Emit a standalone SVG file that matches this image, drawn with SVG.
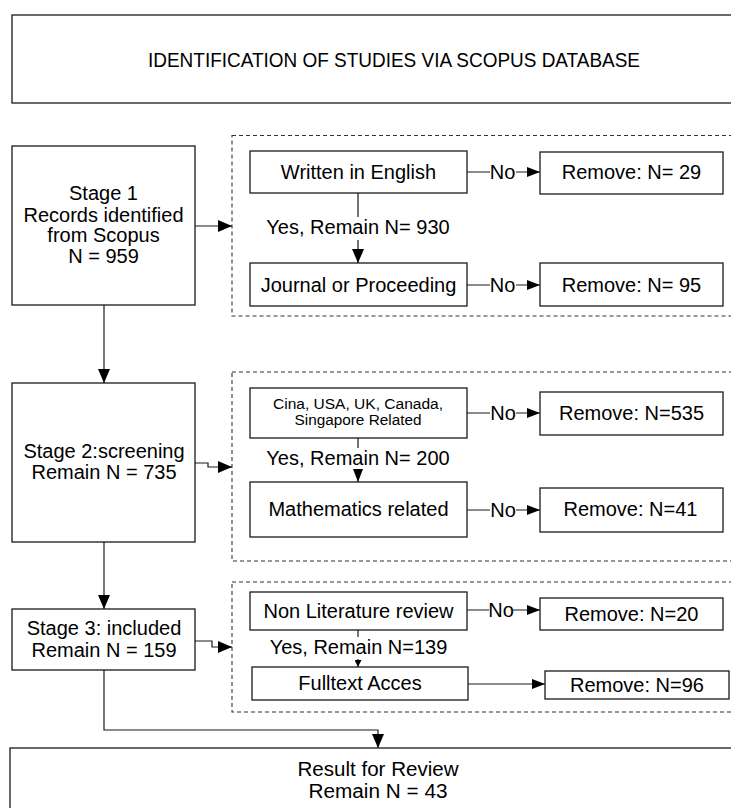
<svg xmlns="http://www.w3.org/2000/svg" width="731" height="808" viewBox="0 0 731 808">
<style>
.box{fill:#fff;stroke:#1a1a1a;stroke-width:1.3}
.dash{fill:none;stroke:#333;stroke-width:1.1;stroke-dasharray:4 3}
.ln{fill:none;stroke:#1a1a1a;stroke-width:1.2}
.t{font-family:"Liberation Sans",Arial,sans-serif;font-size:20px;fill:#000;text-anchor:middle}
.ts{font-family:"Liberation Sans",Arial,sans-serif;font-size:14px;fill:#000;text-anchor:middle}
</style>
<defs>
<marker id="ah" markerUnits="userSpaceOnUse" markerWidth="14" markerHeight="12" refX="14" refY="6" orient="auto">
<path d="M0,0 L14,6 L0,12 z" fill="#000"/>
</marker>
<marker id="ahm" markerUnits="userSpaceOnUse" markerWidth="13" markerHeight="10" refX="13" refY="5" orient="auto">
<path d="M0,0 L13,5 L0,10 z" fill="#000"/>
</marker>
<marker id="ahs" markerUnits="userSpaceOnUse" markerWidth="7" markerHeight="7" refX="7" refY="3.5" orient="auto">
<path d="M0,0 L7,3.5 L0,7 z" fill="#000"/>
</marker>
</defs>
<rect width="731" height="808" fill="#fff"/>

<g id="groups">
<rect class="dash" x="232" y="135.5" width="510" height="180.5"/>
<rect class="dash" x="232" y="372" width="510" height="189"/>
<rect class="dash" x="232" y="582" width="510" height="130"/>
</g>

<g id="connectors">
<path class="ln" d="M104,305 V383" marker-end="url(#ah)"/>
<path class="ln" d="M104,542 V609" marker-end="url(#ah)"/>
<path class="ln" d="M104,670 V730 H378 V748" marker-end="url(#ah)"/>
<path class="ln" d="M195,226 H232" marker-end="url(#ah)"/>
<path class="ln" d="M195,463 H208 V467 H232" marker-end="url(#ah)"/>
<path class="ln" d="M195,641 H212 V647 H232" marker-end="url(#ah)"/>
<path class="ln" d="M467,172 H490 M516,172 H540" marker-end="url(#ahm)"/>
<path class="ln" d="M467,285 H490 M516,285 H540" marker-end="url(#ahm)"/>
<path class="ln" d="M358,193 V217 M358,240 V263" marker-end="url(#ah)"/>
<path class="ln" d="M467,413 H490 M516,413 H540" marker-end="url(#ahm)"/>
<path class="ln" d="M467,510 H490 M516,510 H540" marker-end="url(#ahm)"/>
<path class="ln" d="M358,438 V448 M358,470 V482" marker-end="url(#ahm)"/>
<path class="ln" d="M467,610 H489 M513,610 H540" marker-end="url(#ahm)"/>
<path class="ln" d="M468,684 H545" marker-end="url(#ahm)"/>
<path class="ln" d="M358,630 V637 M358,659 V667" marker-end="url(#ahs)"/>
<text class="t" x="502.5" y="179">No</text>
<text class="t" x="502.5" y="292">No</text>
<text class="t" x="503" y="420">No</text>
<text class="t" x="503" y="517">No</text>
<text class="t" x="501" y="617">No</text>
<text class="t" x="358" y="234">Yes, Remain N= 930</text>
<text class="t" x="358" y="465">Yes, Remain N= 200</text>
<text class="t" x="358.5" y="654">Yes, Remain N=139</text>
</g>

<g id="title">
<rect class="box" x="12" y="15" width="764" height="88"/>
<text class="t" x="394" y="67" font-size="20" textLength="492" lengthAdjust="spacingAndGlyphs">IDENTIFICATION OF STUDIES VIA SCOPUS DATABASE</text>
</g>

<g id="stage1">
<rect class="box" x="12" y="146" width="183" height="159"/>
<text class="t" x="103.5" y="200">Stage 1</text>
<text class="t" x="103.5" y="222">Records identified</text>
<text class="t" x="103.5" y="242">from Scopus</text>
<text class="t" x="103.5" y="263">N = 959</text>
</g>

<g id="stage2">
<rect class="box" x="12" y="383" width="183" height="159"/>
<text class="t" x="104" y="458">Stage 2:screening</text>
<text class="t" x="104" y="479">Remain N = 735</text>
</g>

<g id="stage3">
<rect class="box" x="12" y="609" width="183" height="61"/>
<text class="t" x="104" y="635">Stage 3: included</text>
<text class="t" x="104" y="657">Remain N = 159</text>
</g>

<g id="english">
<rect class="box" x="250" y="151" width="217" height="42"/>
<text class="t" x="358.5" y="179">Written in English</text>
</g>
<g id="remove29">
<rect class="box" x="540" y="152" width="183" height="42"/>
<text class="t" x="631.5" y="179">Remove: N= 29</text>
</g>
<g id="journal">
<rect class="box" x="250" y="263" width="217" height="43"/>
<text class="t" x="358.5" y="292">Journal or Proceeding</text>
</g>
<g id="remove95">
<rect class="box" x="540" y="263" width="183" height="43"/>
<text class="t" x="631.5" y="292">Remove: N= 95</text>
</g>

<g id="country">
<rect class="box" x="250" y="388" width="217" height="50"/>
<text class="ts" x="358" y="409" textLength="170" lengthAdjust="spacingAndGlyphs">Cina, USA, UK, Canada,</text>
<text class="ts" x="358" y="425" textLength="127" lengthAdjust="spacingAndGlyphs">Singapore Related</text>
</g>
<g id="remove535">
<rect class="box" x="540" y="392" width="183" height="43"/>
<text class="t" x="631.5" y="420">Remove: N=535</text>
</g>
<g id="math">
<rect class="box" x="250" y="482" width="217" height="55"/>
<text class="t" x="358.5" y="516">Mathematics related</text>
</g>
<g id="remove41">
<rect class="box" x="540" y="488" width="183" height="44"/>
<text class="t" x="630.5" y="516">Remove: N=41</text>
</g>

<g id="nonlit">
<rect class="box" x="250" y="592" width="217" height="38"/>
<text class="t" x="358.5" y="618">Non Literature review</text>
</g>
<g id="remove20">
<rect class="box" x="540" y="598" width="183" height="32"/>
<text class="t" x="631.5" y="621">Remove: N=20</text>
</g>
<g id="fulltext">
<rect class="box" x="252" y="667" width="216" height="33"/>
<text class="t" x="360" y="690">Fulltext Acces</text>
</g>
<g id="remove96">
<rect class="box" x="545" y="671" width="184" height="28"/>
<text class="t" x="637" y="692">Remove: N=96</text>
</g>

<g id="result">
<rect class="box" x="10" y="748" width="736" height="70"/>
<text class="t" x="378" y="776" font-size="20" textLength="161" lengthAdjust="spacingAndGlyphs">Result for Review</text>
<text class="t" x="378" y="798" font-size="20" textLength="139" lengthAdjust="spacingAndGlyphs">Remain N = 43</text>
</g>
</svg>
